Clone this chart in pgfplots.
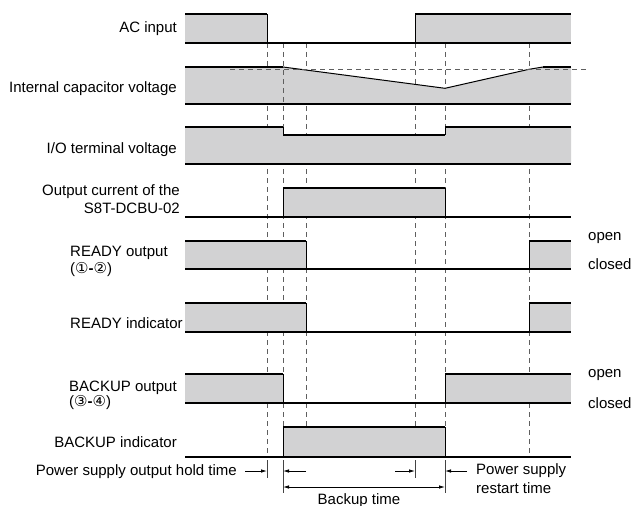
\documentclass[border=0pt]{standalone}
\usepackage{pgfplots}
\pgfplotsset{compat=1.18}
\usepackage{fontspec}
\setmainfont{Liberation Sans}
\newfontfamily\dejavu{DejaVu Sans}
\usetikzlibrary{arrows.meta}
\definecolor{fillg}{RGB}{210,210,211}
\definecolor{dashg}{RGB}{95,95,95}
\tikzset{lab/.style={font=\fontsize{15bp}{17bp}\selectfont, inner sep=0pt}}
\newcommand{\cd}[1]{{\dejavu\fontsize{15bp}{15bp}\selectfont #1}}
\begin{document}
\begin{tikzpicture}
\begin{axis}[width=634bp, height=506bp, scale only axis, xmin=0, xmax=634, ymin=0, ymax=506,
  y dir=reverse, hide axis, clip=false]
% vertical dashed guide lines (behind fills)
\pgfplotsinvokeforeach{267,283,306,415,445,529}{
  \addplot[dashg, line width=1bp, dash pattern=on 5bp off 4bp] coordinates {(#1,43) (#1,457)};
}
% fills
\addplot[fill=fillg, draw=none] coordinates {(185,43)(185,14)(267,14)(267,43)} -- cycle;
\addplot[fill=fillg, draw=none] coordinates {(415,43)(415,14)(571,14)(571,43)} -- cycle;
\addplot[fill=fillg, draw=none] coordinates {(185,104)(185,67)(283,67)(445,88.3)(529,69.3)(543,67)(571,67)(571,104)} -- cycle;
\addplot[fill=fillg, draw=none] coordinates {(185,164)(185,127)(283,127)(283,135)(445,135)(445,127)(571,127)(571,164)} -- cycle;
\addplot[fill=fillg, draw=none] coordinates {(283,217)(283,188)(445,188)(445,217)} -- cycle;
\addplot[fill=fillg, draw=none] coordinates {(185,269)(185,241)(306,241)(306,269)} -- cycle;
\addplot[fill=fillg, draw=none] coordinates {(529,269)(529,241)(571,241)(571,269)} -- cycle;
\addplot[fill=fillg, draw=none] coordinates {(185,332)(185,303)(306,303)(306,332)} -- cycle;
\addplot[fill=fillg, draw=none] coordinates {(529,332)(529,303)(571,303)(571,332)} -- cycle;
\addplot[fill=fillg, draw=none] coordinates {(185,403)(185,374)(283,374)(283,403)} -- cycle;
\addplot[fill=fillg, draw=none] coordinates {(445,403)(445,374)(571,374)(571,403)} -- cycle;
\addplot[fill=fillg, draw=none] coordinates {(283,457)(283,427)(445,427)(445,457)} -- cycle;
% baselines
\pgfplotsinvokeforeach{43,104,164,217,269,332,403,457}{
  \addplot[black, line width=1.2bp] coordinates {(185,#1) (571,#1)};
}
% thin vertical transitions
\addplot[black, line width=0.9bp] coordinates {(267,14)(267,43)};
\addplot[black, line width=0.9bp] coordinates {(415,14)(415,43)};
\addplot[black, line width=0.9bp] coordinates {(283,127)(283,135)};
\addplot[black, line width=0.9bp] coordinates {(445,127)(445,135)};
\addplot[black, line width=0.9bp] coordinates {(283,188)(283,217)};
\addplot[black, line width=0.9bp] coordinates {(445,188)(445,217)};
\addplot[black, line width=0.9bp] coordinates {(306,241)(306,269)};
\addplot[black, line width=0.9bp] coordinates {(529,241)(529,269)};
\addplot[black, line width=0.9bp] coordinates {(306,303)(306,332)};
\addplot[black, line width=0.9bp] coordinates {(529,303)(529,332)};
\addplot[black, line width=0.9bp] coordinates {(283,374)(283,403)};
\addplot[black, line width=0.9bp] coordinates {(445,374)(445,403)};
\addplot[black, line width=0.9bp] coordinates {(283,427)(283,457)};
\addplot[black, line width=0.9bp] coordinates {(445,427)(445,457)};
% capacitor thin slope
\addplot[black, line width=1bp] coordinates {(283,67)(445,88.3)(529,69.3)(543,67)};
% thick high levels
\addplot[black, line width=2.9bp] coordinates {(185,14)(267,14)};
\addplot[black, line width=2.9bp] coordinates {(415,14)(571,14)};
\addplot[black, line width=2.9bp] coordinates {(185,67)(283,67)};
\addplot[black, line width=2.9bp] coordinates {(543,67)(571,67)};
\addplot[black, line width=2.9bp] coordinates {(185,127)(283,127)};
\addplot[black, line width=2.9bp] coordinates {(283,135)(445,135)};
\addplot[black, line width=2.9bp] coordinates {(445,127)(571,127)};
\addplot[black, line width=2.9bp] coordinates {(283,188)(445,188)};
\addplot[black, line width=2.9bp] coordinates {(185,241)(306,241)};
\addplot[black, line width=2.9bp] coordinates {(529,241)(571,241)};
\addplot[black, line width=2.9bp] coordinates {(185,303)(306,303)};
\addplot[black, line width=2.9bp] coordinates {(529,303)(571,303)};
\addplot[black, line width=2.9bp] coordinates {(185,374)(283,374)};
\addplot[black, line width=2.9bp] coordinates {(445,374)(571,374)};
\addplot[black, line width=2.9bp] coordinates {(283,427)(445,427)};
% dashed overlays
\addplot[dashg, line width=1bp, dash pattern=on 5bp off 4bp] coordinates {(230,69.3)(586,69.3)};
\addplot[dashg, line width=1bp, dash pattern=on 5bp off 4bp] coordinates {(283,70)(283,104)};
% dimension ticks
\addplot[dashg!70!black, line width=0.8bp] coordinates {(267,460)(267,478)};
\addplot[dashg!70!black, line width=0.8bp] coordinates {(283,460)(283,493)};
\addplot[dashg!70!black, line width=0.8bp] coordinates {(415,460)(415,478)};
\addplot[dashg!70!black, line width=0.8bp] coordinates {(445,460)(445,493)};
% arrows
\draw[line width=0.8bp, -{Latex[length=6bp,width=3.5bp]}] (axis cs:245,471) -- (axis cs:267,471);
\draw[line width=0.8bp, -{Latex[length=6bp,width=3.5bp]}] (axis cs:306,471) -- (axis cs:283,471);
\draw[line width=0.8bp, -{Latex[length=6bp,width=3.5bp]}] (axis cs:395,471) -- (axis cs:415,471);
\draw[line width=0.8bp, -{Latex[length=6bp,width=3.5bp]}] (axis cs:467,471) -- (axis cs:445,471);
\draw[line width=0.8bp, {Latex[length=6bp,width=3.5bp]}-{Latex[length=6bp,width=3.5bp]}] (axis cs:283,487) -- (axis cs:445,487);
% labels
\node[lab, anchor=east] at (axis cs:177,29) {AC input};
\node[lab, anchor=east] at (axis cs:177,88.5) {Internal capacitor voltage};
\node[lab, anchor=east] at (axis cs:177,150) {I/O terminal voltage};
\node[lab, anchor=east] at (axis cs:180,191.5) {Output current of the};
\node[lab, anchor=east] at (axis cs:180,208.5) {S8T-DCBU-02};
\node[lab, anchor=west] at (axis cs:70,252.5) {READY output};
\node[lab, anchor=west] at (axis cs:70,270) {(\cd{①}\textbf{-}\cd{②})};
\node[lab, anchor=west] at (axis cs:70,323.5) {READY indicator};
\node[lab, anchor=west] at (axis cs:69,388) {BACKUP output};
\node[lab, anchor=west] at (axis cs:69,403) {(\cd{③}\textbf{-}\cd{④})};
\node[lab, anchor=east] at (axis cs:177,442) {BACKUP indicator};
\node[lab, anchor=east] at (axis cs:237,472) {Power supply output hold time};
\node[lab, anchor=west] at (axis cs:476,471) {Power supply};
\node[lab, anchor=west] at (axis cs:476,488) {restart time};
\node[lab] at (axis cs:359,500.5) {Backup time};
\node[lab, anchor=west] at (axis cs:588,238) {open};
\node[lab, anchor=west] at (axis cs:588,264) {closed};
\node[lab, anchor=west] at (axis cs:588,375) {open};
\node[lab, anchor=west] at (axis cs:588,403) {closed};
\end{axis}
\pgfresetboundingbox
\path[use as bounding box] (0,0) rectangle (634bp,506bp);
\end{tikzpicture}
\end{document}
